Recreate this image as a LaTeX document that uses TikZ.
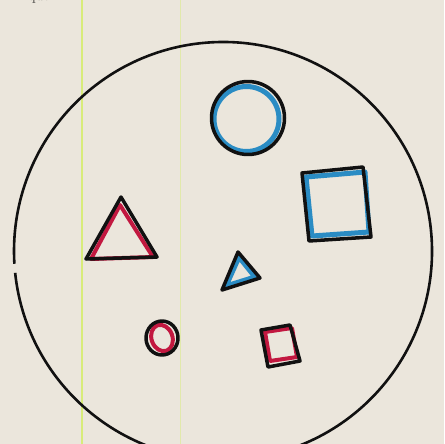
\documentclass[tikz,border=0pt]{standalone}
\usetikzlibrary{calc}
\definecolor{paper}{HTML}{EBE6DC}
\definecolor{inkblue}{HTML}{2A8CC4}
\definecolor{inkred}{HTML}{C21840}
\definecolor{ink}{HTML}{111111}
\definecolor{rule}{HTML}{D8EC7A}
\tikzset{
  blackline/.style={draw=ink, line width=3.5pt, line join=round, line cap=round},
  blueline/.style={draw=inkblue, line width=5pt, line join=round, line cap=round},
  redline/.style={draw=inkred, line width=4pt, line join=round, line cap=round},
}
\begin{document}
\begin{tikzpicture}[x=1pt,y=-1pt]
\useasboundingbox (0,0) rectangle (444,444);
\fill[paper] (0,0) rectangle (444,444);
% ruling lines
\draw[rule, line width=1.5pt] (82,0) -- (82,444);
\draw[rule!50!paper, line width=1pt] (180,0) -- (180,444);
% partial text at the top
\begin{scope}
\clip (0,0) rectangle (444,444);
\node[text=ink!80!paper, font=\Large, anchor=base west, inner sep=0pt] (txt) at (28,1) {que};
\end{scope}
% big circle with small gaps
\coordinate (C) at (223,251);
\draw[ink, line width=2.6pt] (C) ++(174:209) arc[start angle=174, end angle=-150, radius=209];
\draw[ink, line width=2.6pt] (C) ++(176.5:209) arc[start angle=176.5, end angle=210, radius=209];
% blue circle
\draw[blueline] (246.5,119) circle[radius=32.5];
\draw[blackline] (248,118) circle[radius=36.5];
% blue square
\draw[blueline] (306,177) -- (365,172) -- (369,232) -- (312,236) -- cycle;
\draw[blackline] (302,173) -- (363,167) -- (371,237) -- (309,241) -- cycle;
% red triangle
\draw[redline] (120,205) -- (91,259) -- (153,257) -- cycle;
\draw[blackline] (121,197) -- (86,259) -- (157,257) -- cycle;
% small blue triangle
\draw[blueline] (239,257) -- (226,286) -- (255,277) -- cycle;
\draw[blackline] (238,252) -- (222,290) -- (260,278) -- cycle;
% small red ellipse
\draw[redline] (162,338) ellipse[x radius=10.5, y radius=13.5, rotate=20];
\draw[blackline] (162,338) ellipse[x radius=16, y radius=17];
% small red square
\draw[redline] (265,332) -- (292,328) -- (297,357) -- (270,361) -- cycle;
\draw[blackline] (261,330) -- (290,325) -- (300,361) -- (268,367) -- cycle;
\end{tikzpicture}
\end{document}
